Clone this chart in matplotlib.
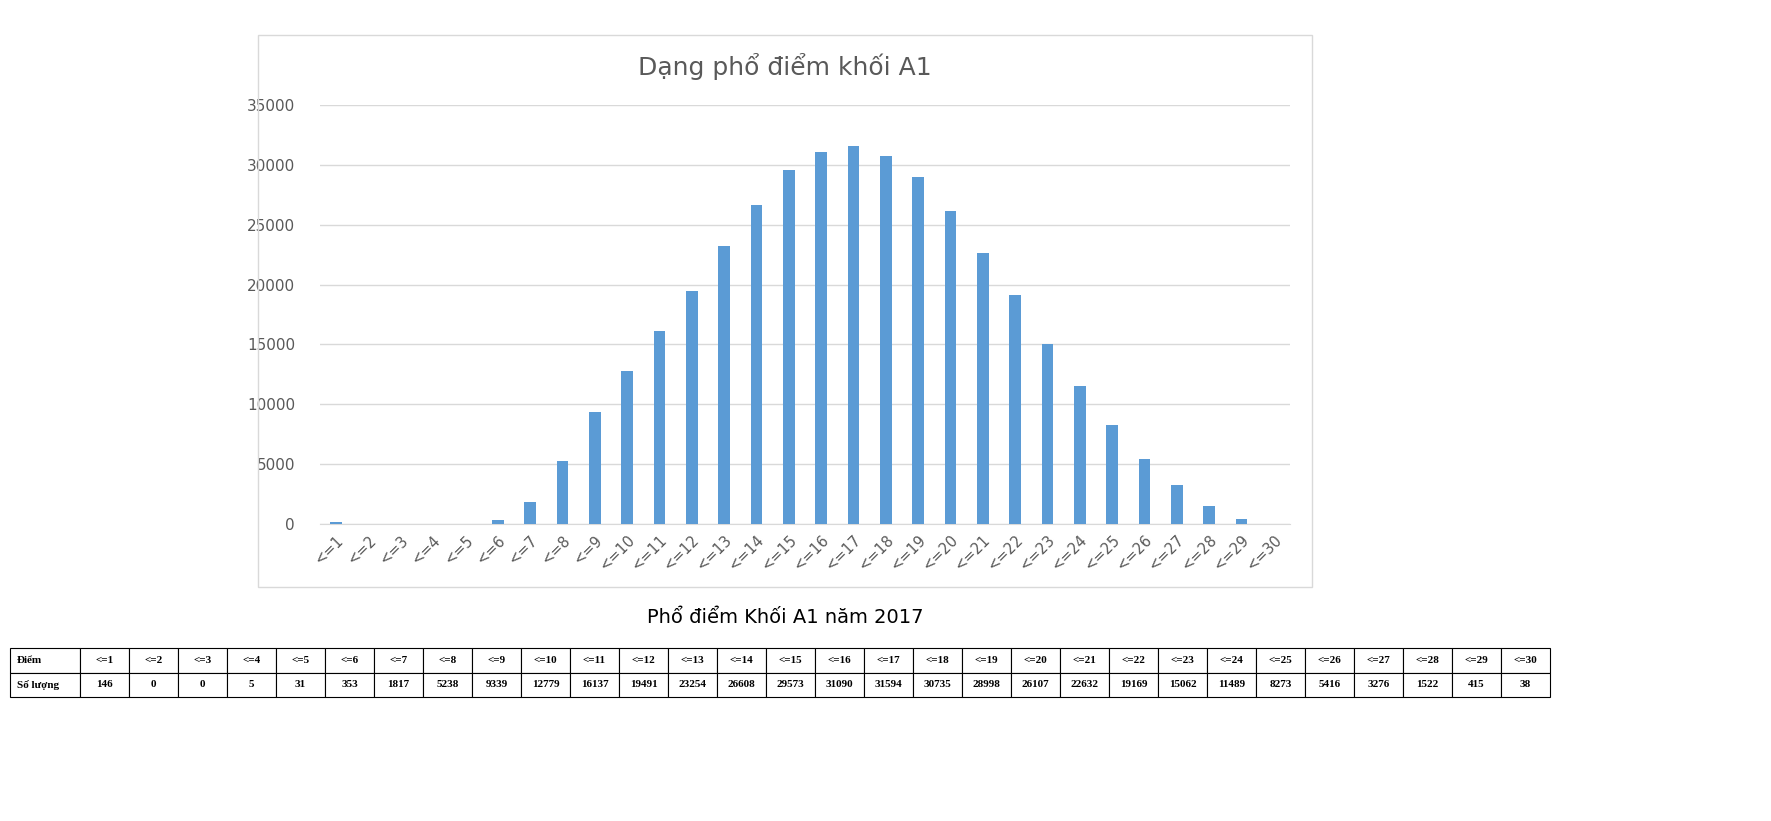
import matplotlib.pyplot as plt
from matplotlib.patches import Rectangle

labels = ['<=%d' % i for i in range(1, 31)]
counts = [146, 0, 0, 5, 31, 353, 1817, 5238, 9339, 12779, 16137, 19491, 23254, 26608,
          29573, 31090, 31594, 30735, 28998, 26107, 22632, 19169, 15062, 11489, 8273,
          5416, 3276, 1522, 415, 38]

fig = plt.figure(figsize=(17.71, 8.21), dpi=100)

# chart frame
fig.patches.append(Rectangle((258/1771, 1-587/821), (1312-258)/1771, (587-35)/821,
                             transform=fig.transFigure, fill=False, edgecolor='#D9D9D9', lw=1))

ax = fig.add_axes([320/1771, 1-524/821, 970/1771, 419/821])
x = range(len(labels))
ax.bar(x, counts, width=0.37, color='#5B9BD5', zorder=3)
ax.set_ylim(0, 35000)
ax.set_xlim(-0.5, len(labels)-0.5)
ax.set_yticks(range(0, 35001, 5000))
ax.set_xticks(list(x))
ax.set_xticklabels(labels, rotation=45, ha='right', rotation_mode='anchor', color='#595959', fontsize=10.5)
ax.tick_params(axis='y', labelcolor='#595959', labelsize=11, length=0, pad=18)
ax.tick_params(axis='x', length=0, pad=6)
ax.grid(axis='y', color='#D9D9D9', lw=1, zorder=0)
for s in ['top', 'right', 'left']:
    ax.spines[s].set_visible(False)
ax.spines['bottom'].set_color('#D9D9D9')

fig.text(785/1771, 1-67/821, 'Dạng phổ điểm khối A1', ha='center', va='center', fontsize=18, color='#595959')
fig.text(785/1771, 1-617/821, 'Phổ điểm Khối A1 năm 2017', ha='center', va='center', fontsize=14, color='black')

tax = fig.add_axes([10/1771, 1-697/821, 1540/1771, 49/821])
tax.axis('off')
tbl = tax.table(cellText=[['Điểm'] + labels, ['Số lượng'] + [str(c) for c in counts]],
                cellLoc='center', bbox=[0, 0, 1, 1])
tbl.auto_set_font_size(False)
first_w = 70 / 1540
other_w = (1 - first_w) / len(labels)
for (r, c), cell in tbl.get_celld().items():
    cell.set_text_props(fontfamily='Liberation Serif', fontweight='bold', fontsize=8)
    cell.set_width(first_w if c == 0 else other_w)
    cell.set_linewidth(0.8)
    if c == 0:
        cell._loc = 'left'
        cell.set_text_props(ha='left')

fig.savefig('out.png', dpi=100)
